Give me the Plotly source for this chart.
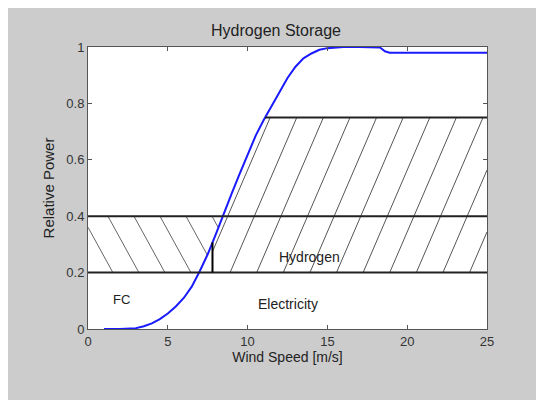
import numpy as np
import plotly.graph_objects as go

# ---- data ----
wind_speed = [1, 2, 3, 3.5, 4, 4.5, 5, 5.5, 6, 6.5, 7, 7.5, 8, 8.5, 9, 9.5, 10,
              10.5, 11, 11.5, 12, 12.5, 13, 13.5, 14, 14.5, 15, 15.5, 16, 17,
              18, 18.3, 18.6, 18.9, 20, 25]
relative_power = [0, 0, 0.003, 0.01, 0.02, 0.035, 0.055, 0.08, 0.11, 0.15, 0.205,
                  0.265, 0.335, 0.41, 0.48, 0.55, 0.62, 0.685, 0.74, 0.79, 0.845,
                  0.89, 0.93, 0.96, 0.977, 0.99, 0.996, 0.999, 1.0, 1.0, 1.0,
                  0.998, 0.985, 0.98, 0.98, 0.98]

electricity_level = 0.2     # lower band limit
fc_level = 0.4              # fuel-cell band upper limit
hydrogen_level = 0.75       # hydrogen storage upper limit
fc_switch_speed = 7.8       # vertical marker separating FC / hydrogen
x_ticks = [0, 5, 10, 15, 20, 25]
y_ticks = [0, 0.2, 0.4, 0.6, 0.8, 1]
y_tick_labels = ["0", "0.2", "0.4", "0.6", "0.8", "1"]
labels = ["FC", "Electricity", "Hydrogen"]
label_x = [2.1, 12.55, 13.9]
label_y = [0.105, 0.09, 0.255]
label_size = [13, 14, 14]

ws = np.array(wind_speed, dtype=float)
rp = np.array(relative_power, dtype=float)
rise = ws <= 15


def curve_x(y):
    return np.interp(y, rp[rise], ws[rise])


# ---- hatch geometry derived from the band limits and the curve ----
def hatch(offsets, slope, y_ref, y_lo, y_hi, keep):
    xs, ys = [], []
    yy = np.linspace(y_lo, y_hi, 3000)
    for a in offsets:
        xx = a + slope * (yy - y_ref)
        m = keep(xx, yy)
        if m.sum() < 2:
            continue
        idx = np.where(m)[0]
        xs += [xx[idx[0]], xx[idx[-1]], None]
        ys += [yy[idx[0]], yy[idx[-1]], None]
    return xs, ys


h_offsets = 20.57 + 1.667 * np.arange(-14, 3)
hx, hy = hatch(h_offsets, 7.6, electricity_level, electricity_level, hydrogen_level,
               lambda x, y: (x >= np.maximum(curve_x(y), fc_switch_speed)) & (x <= 25))

f_offsets = 1.25 + 1.63 * np.arange(-2, 5)
fx, fy = hatch(f_offsets, -9.7, fc_level, electricity_level, fc_level,
               lambda x, y: (x >= 0) & (x <= curve_x(y)))

switch_top = float(np.interp(fc_switch_speed, ws, rp))
h_start = float(curve_x(hydrogen_level))

fig = go.Figure()
fig.add_trace(go.Scatter(x=hx, y=hy, mode="lines", line=dict(color="#555555", width=1),
                         hoverinfo="skip", showlegend=False))
fig.add_trace(go.Scatter(x=fx, y=fy, mode="lines", line=dict(color="#666666", width=1),
                         hoverinfo="skip", showlegend=False))

line_col = "#222222"
fig.add_shape(type="line", x0=0, x1=25, y0=electricity_level, y1=electricity_level,
              line=dict(color=line_col, width=2))
fig.add_shape(type="line", x0=0, x1=25, y0=fc_level, y1=fc_level,
              line=dict(color=line_col, width=2))
fig.add_shape(type="line", x0=h_start, x1=25, y0=hydrogen_level, y1=hydrogen_level,
              line=dict(color=line_col, width=2))
fig.add_shape(type="line", x0=fc_switch_speed, x1=fc_switch_speed,
              y0=electricity_level, y1=switch_top, line=dict(color="#000000", width=2))

fig.add_trace(go.Scatter(x=wind_speed, y=relative_power, mode="lines",
                         line=dict(color="#1a1aff", width=2), showlegend=False))

for t, x, y, s in zip(labels, label_x, label_y, label_size):
    fig.add_annotation(x=x, y=y, text=t, showarrow=False,
                       font=dict(size=s, color="#222222"))

axis_common = dict(showline=True, linecolor="#555555", linewidth=1, mirror="ticks",
                   ticks="inside", ticklen=4, tickcolor="#555555", showgrid=False,
                   zeroline=False, tickfont=dict(size=13, color="#333333"))

# the page adds an 8 px body margin, so the figure is 8 px smaller than the window
W, H = 536, 392
fig.update_layout(
    width=W, height=H,
    margin=dict(l=80, r=57, t=39, b=71),
    paper_bgcolor="#cccccc", plot_bgcolor="#ffffff",
    font=dict(family="Liberation Sans, Arial, sans-serif"),
    title=dict(text="Hydrogen Storage", x=0.5, xanchor="center", y=1 - 22 / H,
               yanchor="middle", font=dict(size=16, color="#222222")),
    xaxis=dict(range=[0, 25], tickvals=x_ticks,
               title=dict(text="Wind Speed [m/s]", font=dict(size=14, color="#222222"),
                          standoff=3),
               **axis_common),
    yaxis=dict(range=[0, 1], tickvals=y_ticks, ticktext=y_tick_labels,
               title=dict(text="Relative Power", font=dict(size=15, color="#222222"),
                          standoff=8),
               **axis_common),
    showlegend=False,
)

fig.write_html("out.html")
